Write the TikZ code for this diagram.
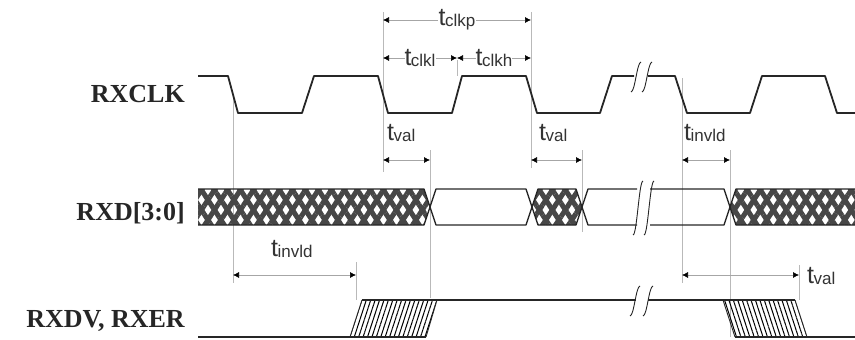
\documentclass[tikz,border=0pt]{standalone}
\usepackage{fontspec}
\setmainfont{Liberation Serif}
\newfontfamily\tfont{Liberation Sans}
\usetikzlibrary{arrows.meta, patterns.meta}
% timing symbol: big t with subscript
\newcommand{\tsym}[1]{{\tfont\fontsize{25}{25}\selectfont t\kern-0.5pt\raisebox{-1pt}{\fontsize{17}{17}\selectfont #1}}}

\begin{document}
\begin{tikzpicture}[
    x=1pt, y=-1pt,
    sig/.style={line width=1.8pt, black!85, line join=round},
    busline/.style={line width=1.3pt, black!85, line join=round},
    guide/.style={gray!55, line width=0.6pt},
    brk/.style={line width=0.9pt, black!85},
    dim/.style={gray!70, line width=0.6pt,
                {Latex[black,length=6pt,width=6pt]}-{Latex[black,length=6pt,width=6pt]}},
    tlbl/.style={text=black!80, inner sep=1pt},
    sname/.style={font=\bfseries\fontsize{26}{26}\selectfont, text=black!85,
                  anchor=base east, inner sep=0pt},
    xhatch/.style={pattern={Lines[angle=57,distance=10.9pt,line width=5pt]},
                   pattern color=black!72,
                   preaction={pattern={Lines[angle=-57,distance=10.9pt,line width=5pt]},
                              pattern color=black!72}},
    dvhatch/.style={pattern={Lines[angle=72,distance=4.2pt,line width=1pt]}},
    dvhatchb/.style={pattern={Lines[angle=-72,distance=4.2pt,line width=1pt]}},
]
\useasboundingbox (0,0) rectangle (855,340);

% signal names
\node[sname] (lblclk) at (185,102) {RXCLK};
\node[sname] (lbldata) at (185,220) {RXD[3:0]};
\node[sname] (lbldv) at (185,327) {RXDV, RXER};

% guide lines
\foreach \gx/\ga/\gb in {233/95/283, 383/12/172, 457/60/76, 531/12/168,
                         430/150/298, 582/150/232, 682/78/283, 730/150/337,
                         356/262/300, 799/265/300}
    \draw[guide] (\gx,\ga) -- (\gx,\gb);

% RXCLK
\draw[sig] (198,76) -- (228,76) -- (238,113) -- (302,113) -- (314,76)
    -- (378,76) -- (388,113) -- (452,113) -- (462,76) -- (526,76)
    -- (537,113) -- (600,113) -- (612,76) -- (634,76);
\draw[sig] (648,76) -- (675,76) -- (687,113) -- (750,113) -- (762,76)
    -- (825,76) -- (837,113) -- (855,113);

% RXD[3:0]
\fill[xhatch] (198,189) -- (424,189) -- (430,207) -- (424,225) -- (198,225) -- cycle;
\draw[busline] (198,189) -- (424,189) -- (430,207) -- (424,225) -- (198,225);
\draw[busline] (430,207) -- (436,189) -- (526,189) -- (532,207) -- (526,225)
    -- (436,225) -- cycle;
\fill[xhatch] (532,207) -- (538,189) -- (576,189) -- (582,207) -- (576,225)
    -- (538,225) -- cycle;
\draw[busline] (532,207) -- (538,189) -- (576,189) -- (582,207) -- (576,225)
    -- (538,225) -- cycle;
\draw[busline] (637,189) -- (588,189) -- (582,207) -- (588,225) -- (637,225);
\draw[busline] (650,189) -- (724,189) -- (730,207) -- (724,225) -- (650,225);
\fill[xhatch] (730,207) -- (736,189) -- (855,189) -- (855,225) -- (736,225) -- cycle;
\draw[busline] (855,189) -- (736,189) -- (730,207) -- (736,225) -- (855,225);

% RXDV, RXER
\fill[dvhatch] (350,337) -- (362,300) -- (437,300) -- (426,337) -- cycle;
\fill[dvhatchb] (723,300) -- (795,300) -- (807,337) -- (735,337) -- cycle;
\draw[brk] (350,337) -- (362,300) (437,300) -- (426,337);
\draw[brk] (723,300) -- (735,337) (795,300) -- (807,337);
\draw[sig] (198,337) -- (426,337);
\draw[sig] (362,300) -- (636,300);
\draw[sig] (648,300) -- (795,300);
\draw[sig] (735,337) -- (855,337);

% break marks
\foreach \bx/\ba/\bb in {636/62/92, 647/62/92, 638/181/235, 649/181/235,
                         635/286/316, 648/286/316}
    \draw[brk] (\bx-5,\bb) .. controls (\bx-1,\bb) and (\bx+1,\ba) .. (\bx+5,\ba);

% dimension points
\coordinate (p0) at (383,20);  \coordinate (p1) at (531,20);
\coordinate (q0) at (383,58);  \coordinate (qm) at (457,58);
\coordinate (q1) at (531,58);
\coordinate (v0) at (383,160); \coordinate (v1) at (430,160);
\coordinate (w0) at (531,160); \coordinate (w1) at (582,160);
\coordinate (n0) at (682,160); \coordinate (n1) at (730,160);
\coordinate (m0) at (233,275); \coordinate (m1) at (356,275);
\coordinate (r0) at (682,275); \coordinate (r1) at (799,275);

\draw[dim] (p0) -- node[tlbl, fill=white] (tclkp) {\tsym{clkp}} (p1);
\draw[dim] (q0) -- node[tlbl, fill=white, inner xsep=0pt] (tclkl) {\tsym{clkl}} (qm);
\draw[dim] (qm) -- node[tlbl, fill=white, inner xsep=0pt] (tclkh) {\tsym{clkh}} (q1);
\draw[dim] (v0) -- (v1);
\draw[dim] (w0) -- (w1);
\draw[dim] (n0) -- (n1);
\draw[dim] (m0) -- (m1);
\draw[dim] (r0) -- (r1);

\node[tlbl, anchor=base west] (tval1) at (386,140) {\tsym{val}};
\node[tlbl, anchor=base west] (tval2) at (538,140) {\tsym{val}};
\node[tlbl, anchor=base west] (tinv1) at (683,140) {\tsym{invld}};
\node[tlbl, anchor=base west] (tinv2) at (270,256) {\tsym{invld}};
\node[tlbl, anchor=base west] (tval3) at (806,283) {\tsym{val}};
\end{tikzpicture}
\end{document}
